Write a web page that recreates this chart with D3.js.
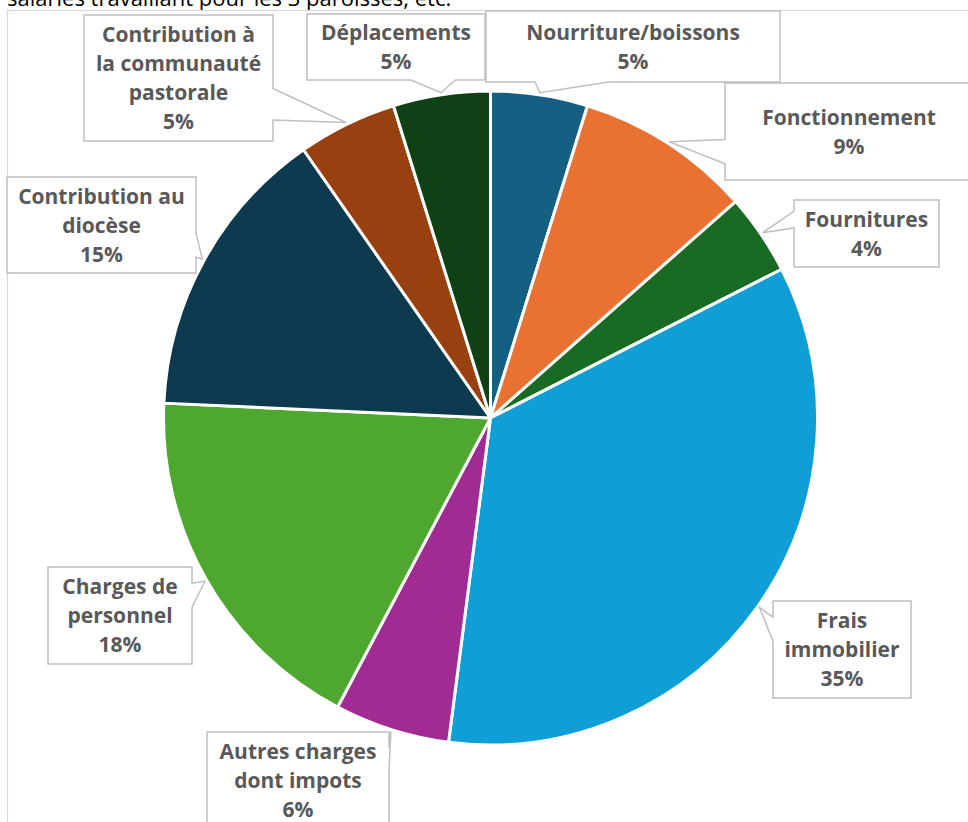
<!DOCTYPE html>
<html>
<head>
<meta charset="utf-8">
<script src="https://cdn.jsdelivr.net/npm/d3@7"></script>
<style>
    body { margin: 0; background: #fff; }
    svg { display: block; }
</style>
</head>
<body>
<svg id="chart" width="968" height="822"></svg>
<script>
// catégories (dans l'ordre du camembert, sens horaire depuis midi)
const categories = ["Nourriture/boissons", "Fonctionnement", "Fournitures", "Frais immobilier",
    "Autres charges dont impots", "Charges de personnel", "Contribution au diocèse",
    "Contribution à la communauté pastorale", "Déplacements"];
// parts (en %)
const values = [4.8, 8.7, 4.0, 34.6, 5.7, 18.0, 14.6, 4.9, 4.8];
// nombre de mots par ligne dans chaque étiquette
const wordsPerLine = [[1], [1], [1], [1, 1], [2, 2], [2, 1], [2, 1], [2, 2, 1], [1]];
const headerText = "salariés travaillant pour les 3 paroisses, etc.";

// couleurs du thème Office
const accents = ["#156082", "#E97132", "#196B24", "#0F9ED5", "#A02B93", "#4EA72E"];
const colors = categories.map(function (c, i) {
    if (i < 6) return accents[i];
    let h = d3.hsl(accents[i - 6]);
    h.l = h.l * 0.6; // variante plus sombre
    return h.formatHex();
});

// mise en page
const cx = 490.5, cy = 418, radius = 327;
const fontFamily = "'Open Sans', 'Liberation Sans', sans-serif";
const fontSize = 21, lineHeight = 29;
// cadres des étiquettes (placés à la main comme dans Excel)
const boxes = [
    { x: 486, y: 11, w: 294, h: 71 },
    { x: 725, y: 83, w: 248, h: 97 },
    { x: 794, y: 200, w: 145, h: 67 },
    { x: 773, y: 601, w: 138, h: 97 },
    { x: 207, y: 732, w: 182, h: 96 },
    { x: 48, y: 567, w: 144, h: 97 },
    { x: 7, y: 177, w: 189, h: 96 },
    { x: 84, y: 15, w: 189, h: 126 },
    { x: 307, y: 14, w: 178, h: 66 }
];

const svg = d3.select("#chart");

// texte coupé en haut
svg.append("text")
    .attr("x", 7).attr("y", 6)
    .attr("font-family", fontFamily)
    .attr("font-size", 22)
    .attr("fill", "#000")
    .text(headerText);

// cadre du graphique
svg.append("rect")
    .attr("x", 7.5).attr("y", 10.5)
    .attr("width", 1000).attr("height", 900)
    .attr("fill", "none")
    .attr("stroke", "#d9d9d9")
    .attr("stroke-width", 1.3);

const total = d3.sum(values);
const pie = d3.pie().sort(null).value(d => d);
const arcs = pie(values);
const arc = d3.arc().innerRadius(0).outerRadius(radius);
const tipArc = d3.arc().innerRadius(radius + 2).outerRadius(radius + 2);

const g = svg.append("g").attr("transform", "translate(" + cx + "," + cy + ")");
g.selectAll("path.slice")
    .data(arcs)
    .enter()
    .append("path")
    .attr("class", "slice")
    .attr("d", arc)
    .attr("fill", (d, i) => colors[i])
    .attr("stroke", "#fff")
    .attr("stroke-width", 3)
    .attr("stroke-linejoin", "round");

/* forme "wedgeRectCallout" d'Office : rectangle + pointe vers (px, py) */
function calloutPath(b, px, py) {
    const l = b.x, t = b.y, r = b.x + b.w, bt = b.y + b.h;
    const hc = l + b.w / 2, vc = t + b.h / 2;
    const dxPos = px - hc, dyPos = py - vc;
    const dq = dxPos * b.h / b.w;
    const dz = Math.abs(dyPos) - Math.abs(dq);
    const x1 = l + b.w * (dxPos > 0 ? 7 : 2) / 12, x2 = l + b.w * (dxPos > 0 ? 10 : 5) / 12;
    const y1 = t + b.h * (dyPos > 0 ? 7 : 2) / 12, y2 = t + b.h * (dyPos > 0 ? 10 : 5) / 12;
    const p = d3.path();
    p.moveTo(l, t);
    if (dz > 0 && dyPos < 0) { p.lineTo(x1, t); p.lineTo(px, py); p.lineTo(x2, t); }
    p.lineTo(r, t);
    if (dz <= 0 && dxPos > 0) { p.lineTo(r, y1); p.lineTo(px, py); p.lineTo(r, y2); }
    p.lineTo(r, bt);
    if (dz > 0 && dyPos > 0) { p.lineTo(x2, bt); p.lineTo(px, py); p.lineTo(x1, bt); }
    p.lineTo(l, bt);
    if (dz <= 0 && dxPos <= 0) { p.lineTo(l, y2); p.lineTo(px, py); p.lineTo(l, y1); }
    p.closePath();
    return p.toString();
}

const labels = svg.append("g").selectAll("g.label")
    .data(arcs)
    .enter()
    .append("g")
    .attr("class", "label");

labels.append("path")
    .attr("d", function (d, i) {
        const c = tipArc.centroid(d);
        return calloutPath(boxes[i], cx + c[0], cy + c[1]);
    })
    .attr("fill", "#fff")
    .attr("stroke", "#bfbfbf")
    .attr("stroke-width", 1.5)
    .attr("stroke-linejoin", "miter");

labels.each(function (d, i) {
    const words = categories[i].split(" ");
    let lines = [], k = 0;
    wordsPerLine[i].forEach(function (n) {
        lines.push(words.slice(k, k + n).join(" "));
        k += n;
    });
    lines.push(Math.round(d.value / total * 100) + "%");
    const b = boxes[i];
    const y0 = b.y + b.h / 2 - (lines.length - 1) / 2 * lineHeight + 7.5;
    d3.select(this).append("text")
        .attr("font-family", fontFamily)
        .attr("font-size", fontSize)
        .attr("font-weight", "bold")
        .attr("fill", "#595959")
        .attr("text-anchor", "middle")
        .selectAll("tspan")
        .data(lines)
        .enter()
        .append("tspan")
        .attr("x", b.x + b.w / 2)
        .attr("y", (t, j) => y0 + j * lineHeight)
        .text(t => t);
});
</script>
</body>
</html>
